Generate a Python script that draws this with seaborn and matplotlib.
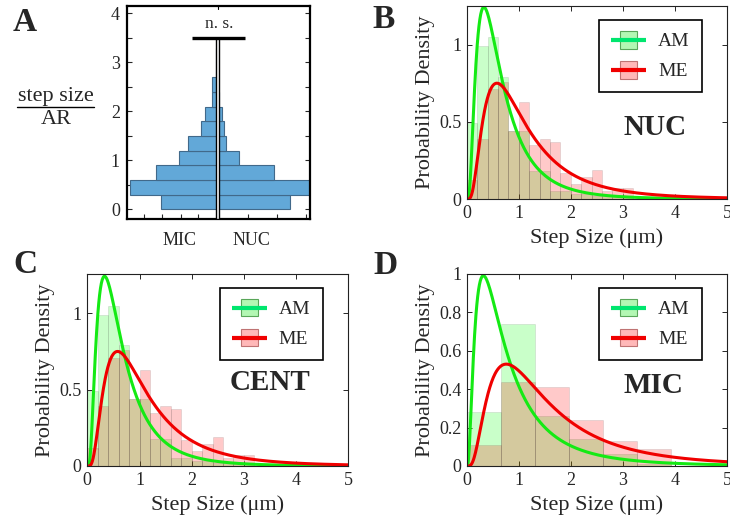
import numpy as np
import seaborn as sns
import matplotlib
matplotlib.use("Agg")
import matplotlib.pyplot as plt
from matplotlib.lines import Line2D
from matplotlib.patches import Rectangle
from matplotlib.legend_handler import HandlerBase
from matplotlib.ticker import FuncFormatter

# ---------------- data ----------------
# Panel A: step size / AR, back-to-back histograms (bin width 0.3)
A_BIN_EDGES = [0.0, 0.3, 0.6, 0.9, 1.2, 1.5, 1.8, 2.1, 2.4, 2.7, 3.0, 3.3]
A_MIC = [0.62, 0.96, 0.68, 0.43, 0.33, 0.18, 0.14, 0.065, 0.06, 0.025, 0.025]
A_NUC = [0.79, 1.10, 0.61, 0.23, 0.09, 0.07, 0.04, 0.012, 0.006, 0.006, 0.0]
A_CATEGORIES = ["MIC", "NUC"]
A_SIG_LEVEL = 3.5
A_SIG_TEXT = "n. s."

# Panels B and C: NUC / CENT step sizes (µm), bin width 0.2
BC_EDGES = [0.0, 0.2, 0.4, 0.6, 0.8, 1.0, 1.2, 1.4, 1.6, 1.8, 2.0,
            2.2, 2.4, 2.6, 2.8, 3.0, 3.2]
BC_AM = [0.49, 0.99, 1.05, 0.79, 0.44, 0.44, 0.18, 0.18, 0.05, 0.05,
         0.03, 0.03, 0.02, 0.02, 0.01, 0.01]
BC_ME = [0.12, 0.39, 0.71, 0.76, 0.44, 0.63, 0.35, 0.39, 0.37, 0.17,
         0.095, 0.145, 0.19, 0.05, 0.07, 0.07]

# Panel D: MIC step sizes (µm)
D_EDGES = [0.0, 0.655, 1.31, 1.965, 2.62, 3.275, 3.93]
D_AM = [0.28, 0.74, 0.26, 0.14, 0.06, 0.01]
D_ME = [0.11, 0.44, 0.41, 0.24, 0.13, 0.09]

# Log-normal fits (mu, sigma) of each step-size distribution
FIT_BC_AM = (-0.561, 0.74)
FIT_BC_ME = (-0.038, 0.712)
FIT_D_AM = (-0.391, 0.865)
FIT_D_ME = (0.285, 0.748)

SERIES = ["AM", "ME"]
X_TICKS = [0, 1, 2, 3, 4, 5]

# ---------------- style ----------------
sns.set_style("ticks")
plt.rcParams["font.family"] = ["Liberation Serif", "DejaVu Serif"]
plt.rcParams["axes.linewidth"] = 0.8

AM_FACE = "#00ff00"
ME_FACE = "#ff0000"
AM_LINE = "#14ea14"
ME_LINE = "#f00000"
AM_LEG_LINE = "#00e66e"
BAR_BLUE = "#62a8d8"
BAR_EDGE = "#41698a"

W, H = 730, 525
fig = plt.figure(figsize=(W / 100, H / 100), dpi=100)
fig.patch.set_facecolor("white")


def box(l, t, r, b):
    return [l / W, 1 - b / H, (r - l) / W, (b - t) / H]


axA = fig.add_axes(box(126.7, 6, 310, 219.3))
axB = fig.add_axes(box(466.7, 6, 727, 199))
axC = fig.add_axes(box(87.3, 274, 348.3, 466))
axD = fig.add_axes(box(466.7, 274, 727, 466))


def lognorm_pdf(x, mu, sigma):
    return np.exp(-(np.log(x) - mu) ** 2 / (2 * sigma ** 2)) / (x * sigma * np.sqrt(2 * np.pi))


class PatchLineHandler(HandlerBase):
    """Legend key: a small translucent square with the fit line across it."""

    def __init__(self, face, edge, line_color):
        super().__init__()
        self.face, self.edge, self.line_color = face, edge, line_color

    def create_artists(self, legend, orig_handle, xdescent, ydescent,
                       width, height, fontsize, trans):
        cy = height / 2 - ydescent
        pw, ph = width * 0.48, height * 1.25
        rect = Rectangle((-xdescent + width / 2 - pw / 2, cy - ph / 2), pw, ph,
                         facecolor=self.face, edgecolor=self.edge, lw=0.8)
        line = Line2D([-xdescent, -xdescent + width], [cy, cy],
                      color=self.line_color, lw=3.0, solid_capstyle="butt")
        rect.set_transform(trans)
        line.set_transform(trans)
        return [rect, line]


fmt = FuncFormatter(lambda v, p: f"{v:g}")


def density_panel(ax, edges, am, me, fit_am, fit_me, ymax, yticks, tag, tag_xy):
    centers = [(a + b) / 2 for a, b in zip(edges[:-1], edges[1:])]
    for vals, face in ((am, AM_FACE), (me, ME_FACE)):
        sns.histplot(x=centers, weights=vals, bins=edges, ax=ax, color=face,
                     alpha=0.21, edgecolor=(0.25, 0.25, 0.25, 0.14), linewidth=0.6)
    xs = np.linspace(0.002, 5, 600)
    sns.lineplot(x=xs, y=lognorm_pdf(xs, *fit_am), ax=ax, color=AM_LINE,
                 lw=2.2, estimator=None)
    sns.lineplot(x=xs, y=lognorm_pdf(xs, *fit_me), ax=ax, color=ME_LINE,
                 lw=2.2, estimator=None)
    ax.set_xlim(0, 5)
    ax.set_ylim(0, ymax)
    ax.set_xticks(X_TICKS)
    ax.set_yticks(yticks)
    ax.xaxis.set_major_formatter(fmt)
    ax.yaxis.set_major_formatter(fmt)
    ax.tick_params(direction="in", length=3.5, width=0.7, top=True, right=True,
                   labelsize=13, pad=4)
    for s in ax.spines.values():
        s.set_color("#222222")
        s.set_linewidth(0.8)
    ax.set_xlabel("Step Size (\u03bcm)", fontsize=16, labelpad=5)
    ax.set_ylabel("Probability Density", fontsize=16, labelpad=3)
    ax.text(tag_xy[0], tag_xy[1], tag, transform=ax.transAxes, ha="center",
            va="center", fontsize=21, fontweight="bold")
    h_am, h_me = Rectangle((0, 0), 1, 1), Rectangle((0, 0), 1, 1)
    leg = ax.legend(
        [h_am, h_me], SERIES, loc="upper left", bbox_to_anchor=(0.509, 0.925),
        borderaxespad=0, fontsize=14, frameon=True, fancybox=False,
        framealpha=1, edgecolor="black", handlelength=1.8, handleheight=0.75,
        handletextpad=0.6, labelspacing=0.62, borderpad=0.62,
        handler_map={
            h_am: PatchLineHandler((0.70, 0.97, 0.70), (0.35, 0.65, 0.35), AM_LEG_LINE),
            h_me: PatchLineHandler((1.0, 0.72, 0.72), (0.75, 0.45, 0.45), ME_LINE),
        })
    leg.get_frame().set_linewidth(1.2)


density_panel(axB, BC_EDGES, BC_AM, BC_ME, FIT_BC_AM, FIT_BC_ME, 1.25,
              [0, 0.5, 1], "NUC", (0.723, 0.37))
density_panel(axC, BC_EDGES, BC_AM, BC_ME, FIT_BC_AM, FIT_BC_ME, 1.257,
              [0, 0.5, 1], "CENT", (0.70, 0.436))
density_panel(axD, D_EDGES, D_AM, D_ME, FIT_D_AM, FIT_D_ME, 1.0,
              [0, 0.2, 0.4, 0.6, 0.8, 1.0], "MIC", (0.716, 0.42))

# ---------------- panel A ----------------
a_centers = [(a + b) / 2 for a, b in zip(A_BIN_EDGES[:-1], A_BIN_EDGES[1:])]
a_height = A_BIN_EDGES[1] - A_BIN_EDGES[0]
axA.barh(a_centers, [-w for w in A_MIC], height=a_height, left=0,
         color=BAR_BLUE, edgecolor=BAR_EDGE, linewidth=0.8, zorder=2)
axA.barh(a_centers, A_NUC, height=a_height, left=0,
         color=BAR_BLUE, edgecolor=BAR_EDGE, linewidth=0.8, zorder=2)
axA.set_xlim(-1.0, 1.01)
axA.set_ylim(-0.2, 4.15)
# white divider between the two halves, up to the significance bar
axA.add_patch(Rectangle((-0.016, -0.2), 0.032, A_SIG_LEVEL + 0.2,
                        facecolor="white", edgecolor="black", lw=1.0, zorder=3))
axA.plot([-0.28, 0.30], [A_SIG_LEVEL, A_SIG_LEVEL], color="black", lw=2.4,
         solid_capstyle="butt", zorder=4)
axA.text(0.01, A_SIG_LEVEL + 0.12, A_SIG_TEXT, ha="center", va="bottom",
         fontsize=12.5)
axA.set_yticks([0, 1, 2, 3, 4])
axA.set_yticks([0.5, 1.5, 2.5, 3.5], minor=True)
axA.set_xticks([-0.42, 0.363])
axA.set_xticklabels(A_CATEGORIES)
axA.set_xticks([-0.807, -0.61, -0.41, -0.215, 0.333, 0.648, 0.966], minor=True)
axA.tick_params(axis="x", which="major", length=0, labelsize=13, pad=9)
axA.tick_params(axis="x", which="minor", direction="in", length=3.5, width=0.8,
                bottom=True, top=False)
axA.tick_params(axis="y", which="both", direction="in", length=3.5, width=0.8,
                left=True, right=True, labelsize=13, pad=5)
for s in axA.spines.values():
    s.set_linewidth(1.6)
    s.set_color("black")
axA.plot([0, 0], [4.15, 4.08], color="black", lw=0.8, zorder=5, clip_on=False)

# fraction label "step size / AR"
fig.text(56 / W, 1 - 101 / H, "step size", ha="center", va="baseline", fontsize=16)
fig.text(56 / W, 1 - 123.5 / H, "AR", ha="center", va="baseline", fontsize=16)
fig.add_artist(Line2D([17.3 / W, 94.3 / W], [1 - 106.7 / H] * 2,
                      transform=fig.transFigure, color="black", lw=1.0))

# panel letters
for letter, x, y in (("A", 13, 31), ("B", 372, 28), ("C", 13, 273), ("D", 373, 274)):
    fig.text(x / W, 1 - y / H, letter, ha="left", va="baseline",
             fontsize=24, fontweight="bold")

fig.savefig("out.png", dpi=100, facecolor="white")
